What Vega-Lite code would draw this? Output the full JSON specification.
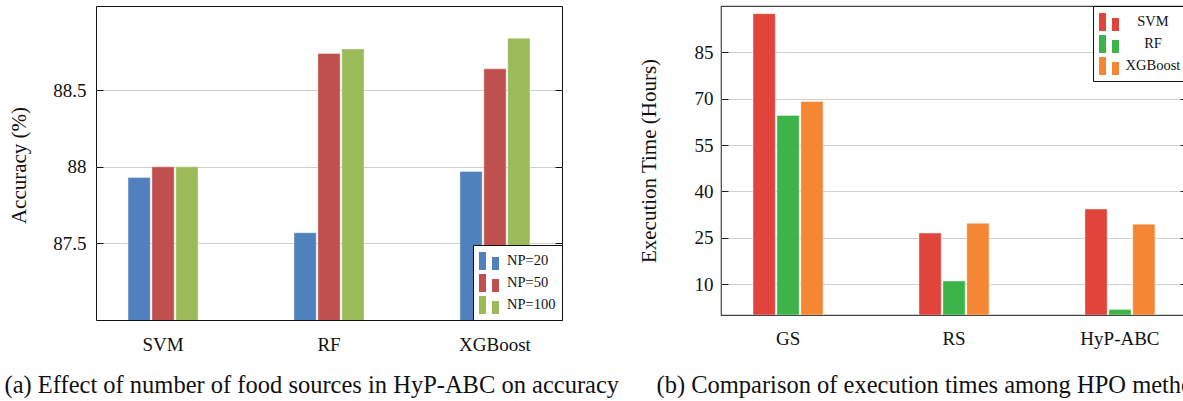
{
  "$schema": "https://vega.github.io/schema/vega-lite/v6.json",
  "padding": {"left": 3, "top": 4, "right": 0, "bottom": 0},
  "background": "white",
  "bounds": "flush",
  "spacing": 159,
  "resolve": {"scale": {"color": "independent", "xOffset": "independent", "x": "independent", "y": "independent"}, "legend": {"color": "independent"}},
  "config": {
    "font": "Liberation Serif",
    "axis": {"labelFont": "Liberation Serif", "titleFont": "Liberation Serif", "labelColor": "#111", "titleColor": "#111", "titleFontWeight": "normal"},
    "legend": {"labelFont": "Liberation Serif", "labelColor": "#111"}
  },
  "hconcat": [
    {
      "width": 466,
      "height": 314,
      "view": {"stroke": "#111", "strokeWidth": 1},
      "data": {"values": [
        {"model": "SVM", "np": "NP=20", "acc": 87.93},
        {"model": "SVM", "np": "NP=50", "acc": 88.0},
        {"model": "SVM", "np": "NP=100", "acc": 88.0},
        {"model": "RF", "np": "NP=20", "acc": 87.57},
        {"model": "RF", "np": "NP=50", "acc": 88.74},
        {"model": "RF", "np": "NP=100", "acc": 88.77},
        {"model": "XGBoost", "np": "NP=20", "acc": 87.97},
        {"model": "XGBoost", "np": "NP=50", "acc": 88.64},
        {"model": "XGBoost", "np": "NP=100", "acc": 88.84}
      ]},
      "layer": [
        {
          "mark": {"type": "bar", "stroke": "white", "strokeOpacity": 0.4, "strokeWidth": 1, "clip": true},
          "encoding": {
            "x": {"field": "model", "type": "nominal", "sort": ["SVM", "RF", "XGBoost"],
              "scale": {"paddingInner": 0.578, "paddingOuter": 0.193},
              "axis": {"title": "(a) Effect of number of food sources in HyP-ABC on accuracy", "titleFont": "Liberation Serif", "labelFont": "Liberation Serif", "titleX": -92, "titleY": 72, "titleAlign": "left", "titleBaseline": "alphabetic", "titleFontSize": 24.5, "titleFontWeight": "normal", "labelFontSize": 19, "labelAngle": 0, "labelPadding": 15, "ticks": false, "domain": false, "grid": false}},
            "xOffset": {"field": "np", "type": "nominal", "sort": ["NP=20", "NP=50", "NP=100"], "scale": {"paddingInner": 0.07, "paddingOuter": 0}},
            "y": {"field": "acc", "type": "quantitative", "scale": {"domain": [87, 89.05], "zero": false, "nice": false},
              "axis": {"values": [87.5, 88, 88.5], "format": ".3~g", "grid": true, "gridColor": "#cfcfcf", "domain": false, "ticks": true, "tickSize": -7, "tickColor": "#111", "labelPadding": 17, "labelFont": "Liberation Serif", "labelFontSize": 19, "title": "Accuracy (%)", "titleFont": "Liberation Serif", "titleFontWeight": "normal", "titleFontSize": 21, "titleX": -77, "titleY": 159, "titleBaseline": "middle", "titleAngle": 270}},
            "color": {"field": "np", "type": "nominal", "sort": ["NP=20", "NP=50", "NP=100"],
              "scale": {"domain": ["NP=20", "NP=50", "NP=100"], "range": ["#4F81BD", "#C0504D", "#9BBB59"]},
              "legend": {"orient": "bottom-right", "offset": 0, "title": null, "padding": 6, "strokeColor": "#111", "fillColor": "white", "symbolType": "M-1,-0.9H-0.3V0.9H-1Z M0.3,-0.4H1V0.9H0.3Z", "symbolSize": 400, "symbolStrokeWidth": 0, "symbolOpacity": 1, "labelFont": "Liberation Serif", "labelFontSize": 14.5, "labelOffset": 8, "rowPadding": 3, "cornerRadius": 0}}
          }
        },
        {
          "mark": {"type": "point", "opacity": 0},
          "encoding": {
            "y": {"field": "acc", "type": "quantitative", "scale": {"domain": [87, 89.05], "zero": false, "nice": false},
              "axis": {"orient": "right", "values": [87.5, 88, 88.5], "labels": false, "grid": false, "domain": false, "ticks": true, "tickSize": -7, "tickColor": "#111", "title": null}}
          }
        }
      ],
      "resolve": {"axis": {"y": "independent"}}
    },
    {
      "width": 466,
      "height": 309,
      "view": {"stroke": "#444", "strokeWidth": 1.2},
      "data": {"values": [
        {"method": "GS", "model": "SVM", "hours": 97.5},
        {"method": "GS", "model": "RF", "hours": 64.6},
        {"method": "GS", "model": "XGBoost", "hours": 69.1},
        {"method": "RS", "model": "SVM", "hours": 26.5},
        {"method": "RS", "model": "RF", "hours": 11.0},
        {"method": "RS", "model": "XGBoost", "hours": 29.7},
        {"method": "HyP-ABC", "model": "SVM", "hours": 34.3},
        {"method": "HyP-ABC", "model": "RF", "hours": 1.8},
        {"method": "HyP-ABC", "model": "XGBoost", "hours": 29.4}
      ]},
      "layer": [
        {
          "mark": {"type": "bar", "stroke": "white", "strokeOpacity": 0.4, "strokeWidth": 1, "clip": true},
          "encoding": {
            "x": {"field": "method", "type": "nominal", "sort": ["GS", "RS", "HyP-ABC"],
              "scale": {"paddingInner": 0.578, "paddingOuter": 0.193},
              "axis": {"title": "(b) Comparison of execution times among HPO methods", "titleFont": "Liberation Serif", "labelFont": "Liberation Serif", "titleX": -65, "titleY": 77, "titleAlign": "left", "titleBaseline": "alphabetic", "titleFontSize": 24.5, "titleFontWeight": "normal", "labelFontSize": 19, "labelAngle": 0, "labelPadding": 14, "ticks": false, "domain": false, "grid": false}},
            "xOffset": {"field": "model", "type": "nominal", "sort": ["SVM", "RF", "XGBoost"], "scale": {"paddingInner": 0.07, "paddingOuter": 0}},
            "y": {"field": "hours", "type": "quantitative", "scale": {"domain": [0, 100], "nice": false},
              "axis": {"values": [10, 25, 40, 55, 70, 85], "format": "d", "grid": true, "gridColor": "#cfcfcf", "domain": false, "ticks": true, "tickSize": -7, "tickColor": "#222", "labelPadding": 15, "labelFont": "Liberation Serif", "labelFontSize": 19, "title": "Execution Time (Hours)", "titleFont": "Liberation Serif", "titleFontWeight": "normal", "titleFontSize": 21, "titleX": -72, "titleY": 154.5, "titleBaseline": "middle", "titleAngle": 270}},
            "color": {"field": "model", "type": "nominal", "sort": ["SVM", "RF", "XGBoost"],
              "scale": {"domain": ["SVM", "RF", "XGBoost"], "range": ["#E0443B", "#3CB44A", "#F58634"]},
              "legend": {"orient": "top-right", "offset": 0, "title": null, "padding": 6, "strokeColor": "#111", "fillColor": "white", "symbolType": "M-1,-0.9H-0.3V0.9H-1Z M0.3,-0.4H1V0.9H0.3Z", "symbolSize": 400, "symbolStrokeWidth": 0, "symbolOpacity": 1, "labelFont": "Liberation Serif", "labelFontSize": 14.5, "labelAlign": "center", "labelOffset": 34, "rowPadding": 3, "cornerRadius": 0}}
          }
        },
        {
          "mark": {"type": "point", "opacity": 0},
          "encoding": {
            "y": {"field": "hours", "type": "quantitative", "scale": {"domain": [0, 100], "nice": false},
              "axis": {"orient": "right", "values": [10, 25, 40, 55, 70, 85], "labels": false, "grid": false, "domain": false, "ticks": true, "tickSize": -7, "tickColor": "#222", "title": null}}
          }
        }
      ],
      "resolve": {"axis": {"y": "independent"}}
    }
  ]
}
